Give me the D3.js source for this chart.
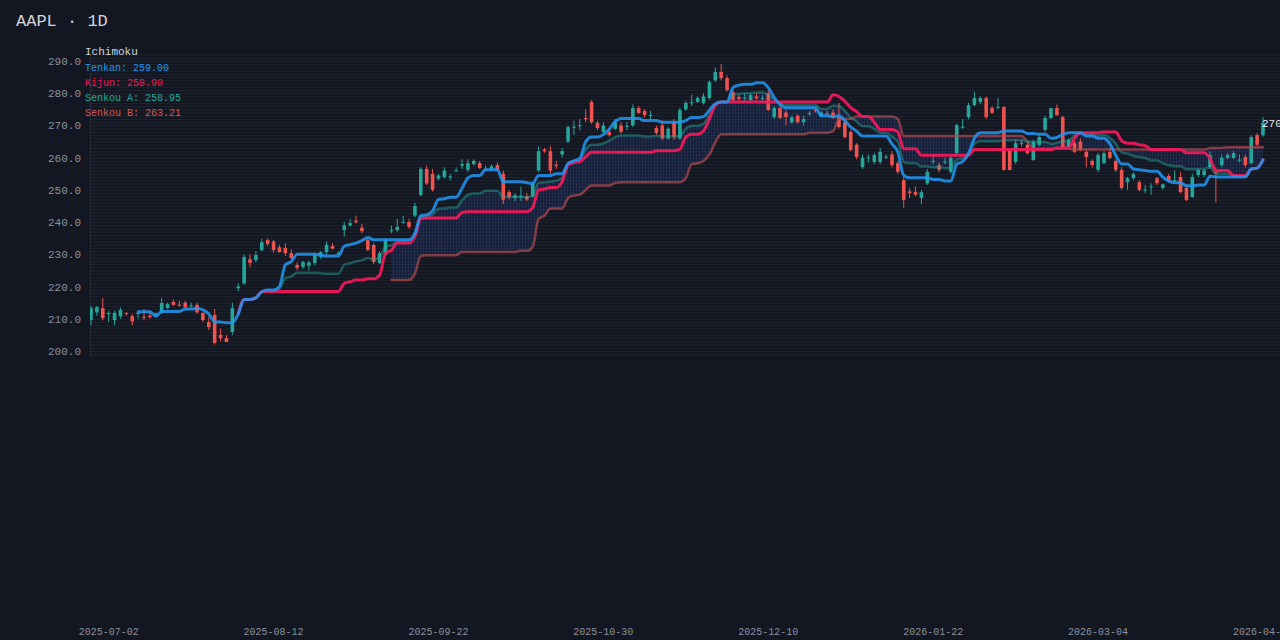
<!DOCTYPE html>
<html><head><meta charset="utf-8">
<script src="https://cdn.jsdelivr.net/npm/d3@7/dist/d3.min.js"></script>
<style>html,body{margin:0;padding:0;background:#131722;}svg{display:block;}</style>
</head><body><svg id="c" width="1280" height="640"></svg>
<script>
const ticker = "AAPL · 1D";
const startDate = "2025-06-27";
const holidays = ["2025-07-04","2025-09-01","2025-11-27","2025-12-25","2026-01-01","2026-01-19","2026-02-16","2026-04-03"];
const xTickLabels = ["2025-07-02","2025-08-12","2025-09-22","2025-10-30","2025-12-10","2026-01-22","2026-03-04","2026-04-14"];
const yTicks = [200,210,220,230,240,250,260,270,280,290];
const legendNames = ["Tenkan","Kijun","Senkou A","Senkou B"];
const legendValues = [259.00,258.90,258.95,263.21];
// [open, high, low, close]
const ohlc = [
[209.6,214,208,213.3],[212,214,211,213.6],[213.3,216.4,209.5,210.2],[211.5,212.5,209,211.8],[209.6,212.5,208,211.8],
[210.8,213.5,210,212.7],[211.8,212,211,211.5],[210.8,211.5,208,209.2],[211.6,212.5,210,211.8],[210.6,213,209.5,210.5],
[211,211.8,210,210.5],[211.2,212,210.5,211.6],[212,216.5,211.5,214.9],[213.3,215,213,214.6],[215.2,216,214,214.3],
[214.4,215.5,213.8,214.3],[215,215.5,213.3,213.6],[214.2,215,213.5,214.2],[214.3,215,211.5,212],[211.8,212,209,209.6],
[209,210.5,206.5,207.4],[211.2,213,202,202.5],[205,207,203,204],[204,205,202.8,202.8],[205.9,215,205,213.3],
[219.5,221,218.5,220],[221,230,220.5,229.2],[228.5,230,226,227.3],[228.2,231,227.5,229.8],[231.3,234.8,231,233.8],
[234.4,235,232.5,233.2],[234,234.5,230.5,231.3],[232.2,233,230.5,230.7],[232,233.5,229.5,230.4],[230.4,231.5,228.5,228.9],
[226.7,227.5,225,225.8],[226.1,228,225.5,227.6],[226.5,228,225,227.5],[227.3,230.5,226.5,229.8],[229.2,231,228.5,230.7],
[230.7,234,230,233],[232.6,233.5,231.5,231.8],[230.2,231,229.5,230.4],[237.5,240,235.5,239],[239,241,238.5,239.7],
[240.5,242,239.5,240],[238.3,239.5,236.5,237.2],[234.4,235,231,231.4],[232.9,233.5,227,227.6],[227.3,231,227,230.4],
[229.8,235,229.5,234.4],[237.3,239,236.5,237.5],[237.5,241,237,238.5],[240,242,239.5,240.1],[240,241,238,238.5],
[242,246,241.5,245],[248.4,257,248,256.5],[256.5,257.5,251.5,252],[255,256.5,249.5,250],[253.5,255,253,254.5],
[254,257,253.5,256],[254,255,253,254.2],[256,257,255.5,256.1],[257.5,259.5,256.5,258],[256.2,259.5,255.5,258.3],
[258,259.5,257.5,259],[258.3,259,256.5,256.8],[256.5,257.5,255.8,256.5],[256.5,258,256,257.3],[257.7,258.5,256,256.2],
[255,256,245.5,247],[249.3,250,247,247.8],[247.5,249,246.5,248.3],[248,251,246.5,248.1],[248,249,246.5,247],
[248,252.5,247.5,252],[256,263.5,255.5,262],[262.5,263,261.5,262],[262,263.5,255,256],[257.8,259,256.5,257.4],
[261,263,260,262],[265,270,264.5,269.5],[269.5,271.5,267,269.6],[270,272,268.5,270.1],[272.3,275,271,271.9],
[277.3,277.8,270.5,271],[270.8,271.5,268.5,269.2],[268,271,267.5,270],[268,269,266.5,267],[269,272,268.5,271],
[270,271,267.5,268],[269.8,271,268.5,269.9],[270,276.5,269.5,275.4],[275.4,276,273.5,273.9],[274.5,275,272.5,273.2],
[273.2,274.5,272,273.3],[269.2,270,267,267.7],[270,271.5,265.5,266],[266,269.5,265.5,269],[271,272,265.5,266.5],
[266,275.5,265.5,274.8],[275,277.5,274.5,277],[277,279.5,276,277.2],[277.3,279,277,278.5],[277,280,276.5,279],
[278.5,284,278,283.5],[284,288,283.5,286.6],[286.6,289,284,284.7],[284.7,285.5,280.5,281],[280.4,281,277.5,277.9],
[278.8,279.5,277.5,278.2],[278.5,280,277.5,278.6],[277.9,280,277.5,279.4],[279,280,278,278.4],[278.5,279.5,277.5,278.5],
[280,281,274.5,274.8],[272.6,276,272,275.4],[275.4,276,272,272.3],[274,275,270,272.6],[271,273,270.5,272.5],
[273,273.5,270.5,271],[271,273,270,272],[273.7,274.5,273,273.8],[274.8,275.5,274,274.5],[273,274.5,272.5,274],
[273.8,274.5,273,273.7],[274,275,272,272.3],[272.6,277,269,269.5],[271,272,266,266.4],[268,268.5,262,262.4],
[264,264.5,259.5,260.2],[257.1,261,256.5,260],[260,261,258.5,260.1],[258.7,261.5,258,260.8],[258.7,263,258,261.8],
[260.2,261,259.5,260.3],[261,262,257,257.7],[258.3,259,255,255.6],[253,254,244.5,246.9],[249.5,250.5,247.5,249],
[249.4,251,248,248.5],[247.5,250,245.5,249.3],[252,256.5,251.5,255.6],[258.8,261,258,259],[257.7,258.5,255.5,256.2],
[258.7,260,258,258.8],[255.6,261,255,260],[261.4,270.5,261,270.1],[269.5,272,269,269.6],[272.6,277,272,276.3],
[276.3,280.5,276,278.5],[277.3,279,276.5,278.5],[278.5,279,272,272.6],[275.4,276,273.5,273.9],[275.7,278.5,275,275.8],
[275.7,276,256,256.2],[262.4,263,256,256.2],[258.7,265.5,258,264.5],[264.5,265.5,263.5,264.6],[264,264.5,261,261.4],
[259.3,265.5,259,264.9],[264,267,263.5,266.4],[268.6,273,268,272.3],[272.3,275.5,272,275.4],[275.4,276.5,273,273.2],
[272.6,273,263,263.3],[263.3,266,263,265.5],[264.5,265.5,261.5,261.8],[265,266,262,262.4],[261.8,262.5,257,260.2],
[259,259.5,257,257.7],[256.2,261.5,255.5,260.8],[258.3,262,258,261.4],[261.8,263,259.5,259.9],[259,259.5,255.5,256.2],
[256.2,257,250,250.6],[252.4,254,250,253.6],[253.6,255.5,253,254.9],[252.4,253,249.5,250],[250,251.5,249,250.1],
[251,252,248.5,251.1],[253.6,254,251.5,252.1],[250.6,252,250,251.7],[254.3,255,252.5,252.7],[253,256,252.5,253.1],
[254,255.5,249,249.3],[250.6,251,246.5,246.9],[247.8,255,247.5,254],[254.6,256.5,254,256.2],[254.6,256.5,254,256],
[257.1,262,256.5,260.8],[255.6,257,246,255.3],[257.7,261,257,260],[259.9,261.5,259.5,260.8],[259.9,262,259.5,261.4],
[259.3,261,258.5,259.4],[260.2,261,257,257.7],[258.3,267,258,266.4],[267,267.5,263.5,264],[267,272.6,266.5,270.8]
];

const dates = [];
{ let d = new Date(startDate+"T12:00:00Z"); const fmt = d3.utcFormat("%Y-%m-%d");
  while (dates.length < ohlc.length + 40) { const s = fmt(d), w = d.getUTCDay();
    if (w!==0 && w!==6 && !holidays.includes(s)) dates.push(s); d = new Date(d.getTime()+864e5); } }

const svg = d3.select("#c");
const pTop=55, pBottom=357, pLeft=90, pRight=1280;
const x = d3.scaleLinear().domain([0, ohlc.length-1]).range([91, 1263]);
const y = d3.scaleLinear().domain([200, 290]).range([351, 61]);
const bw = 3.6;

function hl(n, i){ if(i<n-1) return null; let h=-Infinity,l=Infinity;
  for(let k=i-n+1;k<=i;k++){h=Math.max(h,ohlc[k][1]);l=Math.min(l,ohlc[k][2]);} return (h+l)/2; }
const tenkan = ohlc.map((d,i)=>hl(9,i));
const kijun = ohlc.map((d,i)=>hl(26,i));
const spanA = ohlc.map((d,i)=> tenkan[i]!=null && kijun[i]!=null ? (tenkan[i]+kijun[i])/2 : null);
const spanB = ohlc.map((d,i)=>hl(52,i));

const defs = svg.append("defs");
defs.append("clipPath").attr("id","pc").append("rect").attr("x",pLeft).attr("y",pTop).attr("width",pRight-pLeft).attr("height",pBottom-pTop);
const pat = defs.append("pattern").attr("id","hatch").attr("width",3).attr("height",4).attr("patternUnits","userSpaceOnUse");
pat.append("rect").attr("width",3).attr("height",4).attr("fill","rgba(41,98,255,0.10)");
pat.append("rect").attr("width",1).attr("height",4).attr("fill","rgba(120,150,200,0.10)");

const g = svg.append("g");
g.selectAll("line.h").data(d3.range(199, 293, 1)).join("line")
  .attr("x1",pLeft).attr("x2",pRight).attr("y1",d=>y(d)+0.5).attr("y2",d=>y(d)+0.5)
  .attr("stroke","rgba(255,255,255,0.055)");
g.append("line").attr("x1",pLeft+0.5).attr("x2",pLeft+0.5).attr("y1",pTop).attr("y2",pBottom).attr("stroke","rgba(255,255,255,0.08)");

svg.append("g").selectAll("text").data(yTicks).join("text")
  .attr("x",81).attr("y",d=>y(d)+4).attr("text-anchor","end")
  .attr("font-family","Liberation Mono, monospace").attr("font-size",11).attr("fill","#8b909b").text(d=>d.toFixed(1));

svg.append("g").selectAll("text").data(xTickLabels).join("text")
  .attr("x",d=>x(dates.indexOf(d))).attr("y",635).attr("text-anchor","middle")
  .attr("font-family","Liberation Mono, monospace").attr("font-size",10).attr("fill","#8b909b").text(d=>d);

const plot = svg.append("g").attr("clip-path","url(#pc)");
const idx = d3.range(ohlc.length).filter(i=>spanA[i]!=null && spanB[i]!=null);
plot.append("path").datum(idx).attr("fill","url(#hatch)")
  .attr("d", d3.area().x(i=>x(i)).y0(i=>y(spanA[i])).y1(i=>y(spanB[i])).curve(d3.curveMonotoneX));

const c = plot.append("g").selectAll("g").data(ohlc).join("g");
const col = d=> d[3]>=d[0] ? "#26a69a" : "#ef5350";
c.append("line").attr("x1",(d,i)=>x(i)).attr("x2",(d,i)=>x(i)).attr("y1",d=>y(d[1])).attr("y2",d=>y(d[2])).attr("stroke",col).attr("stroke-width",1);
c.append("rect").attr("x",(d,i)=>x(i)-bw/2).attr("width",bw)
  .attr("y",d=>y(Math.max(d[0],d[3]))).attr("height",d=>Math.max(1,Math.abs(y(d[0])-y(d[3])))).attr("fill",col);

function line(arr, color, w, op){
  plot.append("path").datum(d3.range(arr.length).filter(i=>arr[i]!=null))
    .attr("fill","none").attr("stroke",color).attr("stroke-width",w).attr("stroke-opacity",op)
    .attr("stroke-linejoin","round").attr("stroke-linecap","round")
    .attr("d", d3.line().x(i=>x(i)).y(i=>y(arr[i])).curve(d3.curveMonotoneX));
}
line(spanB, "#b04a4e", 2.5, 0.7);
line(spanA, "#26a69a", 2.5, 0.45);
line(kijun, "#f0185a", 3, 0.95);
line(tenkan, "#2196f3", 3, 0.85);

svg.append("text").attr("x",1262).attr("y",y(ohlc[ohlc.length-1][3])+4)
  .attr("font-family","Liberation Mono, monospace").attr("font-size",11).attr("fill","#e6e8ee")
  .text(ohlc[ohlc.length-1][3].toFixed(2));

svg.append("text").attr("x",16).attr("y",26).attr("font-family","Liberation Mono, monospace")
  .attr("font-size",17).attr("fill","#d1d4dc").text(ticker);
svg.append("text").attr("x",85).attr("y",55).attr("font-family","Liberation Mono, monospace")
  .attr("font-size",11).attr("fill","#d1d4dc").text("Ichimoku");
const lc = ["#2196f3","#f0185a","#26a69a","#d05a5a"];
svg.append("g").selectAll("text").data(legendNames).join("text")
  .attr("x",85).attr("y",(d,i)=>71+i*15).attr("font-family","Liberation Mono, monospace")
  .attr("font-size",10).attr("fill",(d,i)=>lc[i]).text((d,i)=>d+": "+legendValues[i].toFixed(2));
</script></body></html>
